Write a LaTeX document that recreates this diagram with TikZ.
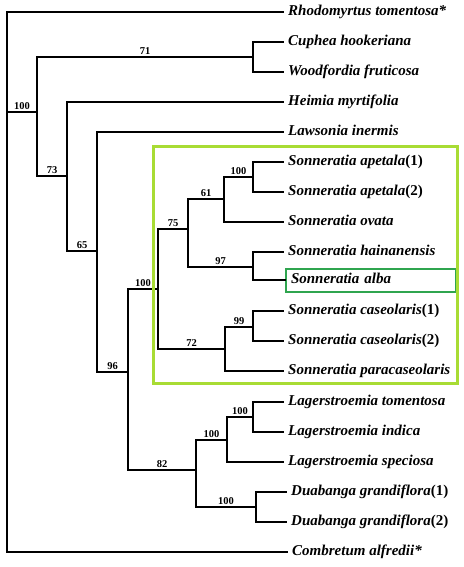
\documentclass[tikz,border=0pt]{standalone}
\usepackage{fontspec,xcolor,tikz}
\setmainfont{Liberation Serif}
\definecolor{boxlime}{HTML}{A8DC34}
\definecolor{boxgruen}{HTML}{2FA54F}
\newcommand{\taxlab}{\fontsize{15}{18}\selectfont\bfseries\itshape}
\newcommand{\bslab}{\fontsize{10.5}{12}\selectfont\bfseries}
\tikzset{
  branch/.style={line width=1.2pt,line cap=rect},
  leaf/.style={anchor=west,inner xsep=5pt,inner ysep=1pt,text height=10pt,text depth=3pt,font=\taxlab},
  bs/.style={pos=.75,above,inner sep=1.5pt,font=\bslab},
}

\begin{document}
\begin{tikzpicture}[x=1pt,y=-1pt]
\useasboundingbox (0,0) rectangle (463,567);
% inner nodes
\coordinate (root) at (7,112);
\coordinate (nA) at (37,112);
\coordinate (nCW) at (253,57);
\coordinate (nB) at (67,176);
\coordinate (nC) at (97,251);
\coordinate (nD) at (128,372);
\coordinate (nSon) at (158,289);
\coordinate (nS1) at (188,229);
\coordinate (nS3) at (224,199);
\coordinate (nApe) at (253,177);
\coordinate (nS4) at (253,267);
\coordinate (nS2) at (225,349);
\coordinate (nCas) at (253,327);
\coordinate (nLE) at (196,470);
\coordinate (nLag) at (227,440);
\coordinate (nLt) at (253,417);
\coordinate (nDua) at (256,507);
% leaves
\node[leaf] (lRho) at (283,12) {Rhodomyrtus tomentosa*};
\node[leaf] (lCup) at (283,42) {Cuphea hookeriana};
\node[leaf] (lWoo) at (283,72) {Woodfordia fruticosa};
\node[leaf] (lHei) at (283,102) {Heimia myrtifolia};
\node[leaf] (lLaw) at (283,132) {Lawsonia inermis};
\node[leaf] (lApe1) at (283,162) {Sonneratia apetala{\upshape(1)}};
\node[leaf] (lApe2) at (283,192) {Sonneratia apetala{\upshape(2)}};
\node[leaf] (lOva) at (283,222) {Sonneratia ovata};
\node[leaf] (lHai) at (283,252) {Sonneratia hainanensis};
\node[leaf,draw=boxgruen,line width=2pt,text width=160pt,minimum height=23pt] (lAlb) at (285,280) {Sonneratia alba};
\node[leaf] (lCas1) at (283,311) {Sonneratia caseolaris{\upshape(1)}};
\node[leaf] (lCas2) at (283,341) {Sonneratia caseolaris{\upshape(2)}};
\node[leaf] (lPar) at (283,371) {Sonneratia paracaseolaris};
\node[leaf] (lLto) at (283,402) {Lagerstroemia tomentosa};
\node[leaf] (lLin) at (283,432) {Lagerstroemia indica};
\node[leaf] (lLsp) at (283,462) {Lagerstroemia speciosa};
\node[leaf] (lDu1) at (286,492) {Duabanga grandiflora{\upshape(1)}};
\node[leaf] (lDu2) at (286,522) {Duabanga grandiflora{\upshape(2)}};
\node[leaf] (lCom) at (287,552) {Combretum alfredii*};
% branches
\draw[branch] (root) |- (lRho.west);
\draw[branch] (root) |- (lCom.west);
\draw[branch] (root) -- (nA) node[midway,above,inner sep=1.5pt,font=\bslab] {100};
\draw[branch] (nA) |- (nCW) node[bs] {71};
\draw[branch] (nA) |- (nB) node[bs] {73};
\draw[branch] (nCW) |- (lCup.west);
\draw[branch] (nCW) |- (lWoo.west);
\draw[branch] (nB) |- (lHei.west);
\draw[branch] (nB) |- (nC) node[bs] {65};
\draw[branch] (nC) |- (lLaw.west);
\draw[branch] (nC) |- (nD) node[bs] {96};
\draw[branch] (nD) |- (nSon) node[bs] {100};
\draw[branch] (nD) |- (nLE) node[bs] {82};
\draw[branch] (nSon) |- (nS1) node[bs] {75};
\draw[branch] (nSon) |- (nS2) node[bs] {72};
\draw[branch] (nS1) |- (nS3) node[bs] {61};
\draw[branch] (nS1) |- (nS4) node[bs] {97};
\draw[branch] (nS3) |- (nApe) node[bs] {100};
\draw[branch] (nS3) |- (lOva.west);
\draw[branch] (nApe) |- (lApe1.west);
\draw[branch] (nApe) |- (lApe2.west);
\draw[branch] (nS4) |- (lHai.west);
\draw[branch] (nS4) |- (lAlb.west);
\draw[branch] (nS2) |- (nCas) node[bs] {99};
\draw[branch] (nS2) |- (lPar.west);
\draw[branch] (nCas) |- (lCas1.west);
\draw[branch] (nCas) |- (lCas2.west);
\draw[branch] (nLE) |- (nLag) node[bs] {100};
\draw[branch] (nLE) |- (nDua) node[bs] {100};
\draw[branch] (nLag) |- (nLt) node[bs] {100};
\draw[branch] (nLag) |- (lLsp.west);
\draw[branch] (nLt) |- (lLto.west);
\draw[branch] (nLt) |- (lLin.west);
\draw[branch] (nDua) |- (lDu1.west);
\draw[branch] (nDua) |- (lDu2.west);
% Sonneratia frame
\draw[boxlime,line width=3pt] (153,146.5) rectangle (457,383);
\end{tikzpicture}
\end{document}
